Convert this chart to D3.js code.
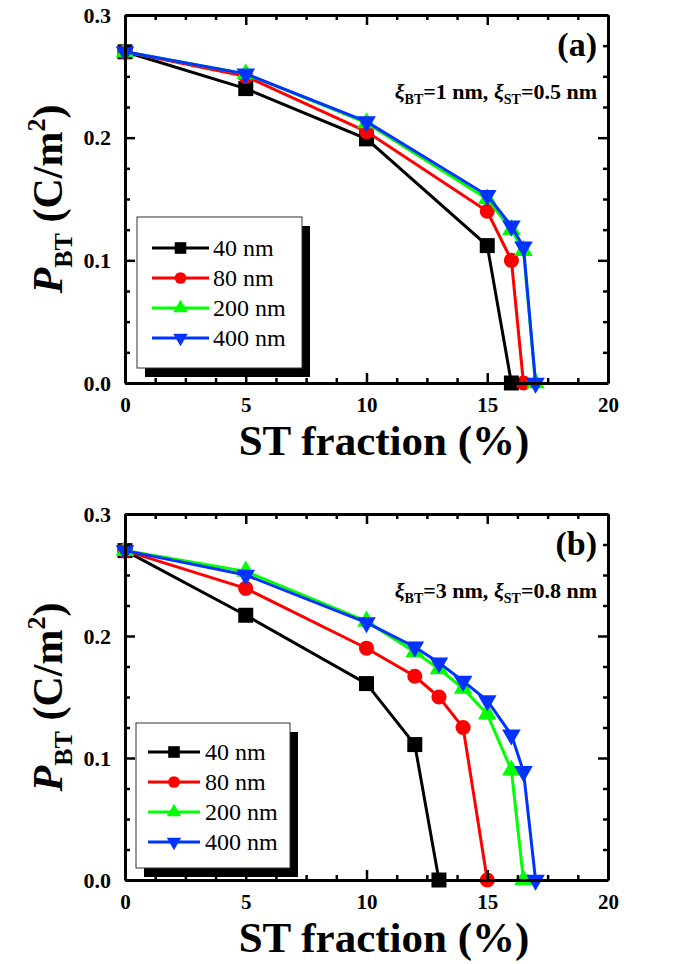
<!DOCTYPE html>
<html>
<head>
<meta charset="utf-8">
<script src="https://cdn.jsdelivr.net/npm/d3@7"></script>
<style>
  body { margin: 0; background: #fff; }
  svg { display: block; }
</style>
</head>
<body>
<svg id="chart" width="682" height="964"></svg>
<script>
// series names, colours, symbols
const sizes = ["40 nm", "80 nm", "200 nm", "400 nm"];
const colors = ["#000000", "#ff0000", "#00ff00", "#0033ff"];

// panel (a): xi_BT = 1 nm, xi_ST = 0.5 nm
const a40X = [0, 5, 10, 15, 16];
const a40Y = [0.27, 0.24, 0.199, 0.112, 0];
const a80X = [0, 5, 10, 15, 16, 16.5];
const a80Y = [0.27, 0.25, 0.205, 0.14, 0.1, 0];
const a200X = [0, 5, 10, 15, 16, 16.5, 17];
const a200Y = [0.27, 0.252, 0.212, 0.15, 0.125, 0.108, 0];
const a400X = [0, 5, 10, 15, 16, 16.5, 17];
const a400Y = [0.27, 0.252, 0.213, 0.153, 0.128, 0.111, 0];

// panel (b): xi_BT = 3 nm, xi_ST = 0.8 nm
const b40X = [0, 5, 10, 12, 13];
const b40Y = [0.27, 0.217, 0.161, 0.111, 0];
const b80X = [0, 5, 10, 12, 13, 14, 15];
const b80Y = [0.27, 0.239, 0.19, 0.167, 0.15, 0.125, 0];
const b200X = [0, 5, 10, 12, 13, 14, 15, 16, 16.5];
const b200Y = [0.27, 0.253, 0.212, 0.187, 0.173, 0.157, 0.136, 0.09, 0];
const b400X = [0, 5, 10, 12, 13, 14, 15, 16, 16.5, 17];
const b400Y = [0.27, 0.25, 0.211, 0.191, 0.178, 0.163, 0.147, 0.119, 0.089, 0];

// axis ticks
const xTicks = [0, 5, 10, 15, 20];
const xMinor = [1.25, 2.5, 3.75, 6.25, 7.5, 8.75, 11.25, 12.5, 13.75, 16.25, 17.5, 18.75];
const yTicks = [0, 0.1, 0.2, 0.3];
const yMinor = [0.025, 0.05, 0.075, 0.125, 0.15, 0.175, 0.225, 0.25, 0.275];

const FONT = '"Liberation Serif"';
const svg = d3.select("#chart");

const symbolFor = (i, k = 1) => [
  d3.symbol().type(d3.symbolSquare).size(225 * k),
  d3.symbol().type(d3.symbolCircle).size(180 * k),
  d3.symbol().type(d3.symbolTriangle).size(150 * k),
  d3.symbol().type(d3.symbolTriangle).size(150 * k),
][i];
const rotFor = (i) => i === 3 ? " rotate(180)" : "";

function drawPanel(opts) {
  const { top, bottom, left, right, series, label, xiBT, xiST, legend } = opts;
  const g = svg.append("g");
  const x = d3.scaleLinear().domain([0, 20]).range([left, right]);
  const y = d3.scaleLinear().domain([0, 0.3]).range([bottom, top]);

  // lines + markers
  series.forEach((s, i) => {
    const pts = s.xs.map((v, k) => [v, s.ys[k]]);
    g.append("path")
      .datum(pts)
      .attr("fill", "none")
      .attr("stroke", colors[i])
      .attr("stroke-width", 3)
      .attr("d", d3.line().x(d => x(d[0])).y(d => y(d[1])));
    g.selectAll(null).data(pts).enter().append("path")
      .attr("transform", d => `translate(${x(d[0])},${y(d[1])})${rotFor(i)}`)
      .attr("d", symbolFor(i)())
      .attr("fill", colors[i]);
  });

  // axes (inward ticks, mirrored)
  const styleAxis = (sel) => {
    sel.select(".domain").attr("stroke", "#000").attr("stroke-width", 3);
    sel.selectAll(".tick line").attr("stroke", "#000").attr("stroke-width", 2.5);
  };
  const bx = g.append("g").attr("transform", `translate(0,${bottom})`)
    .call(d3.axisBottom(x).tickValues(xTicks).tickSizeInner(-10).tickSizeOuter(0).tickPadding(14).tickFormat(d3.format("d")));
  bx.call(styleAxis);
  bx.selectAll(".tick text").attr("font-size", 21).attr("font-weight", "bold").attr("fill", "#000");
  g.append("g").attr("transform", `translate(0,${bottom})`)
    .call(d3.axisBottom(x).tickValues(xMinor).tickSizeInner(-5).tickSizeOuter(0).tickFormat(""))
    .call(styleAxis).select(".domain").remove();
  g.append("g").attr("transform", `translate(0,${top})`)
    .call(d3.axisTop(x).tickValues(xTicks).tickSizeInner(-10).tickSizeOuter(0).tickFormat(""))
    .call(styleAxis);
  g.append("g").attr("transform", `translate(0,${top})`)
    .call(d3.axisTop(x).tickValues(xMinor).tickSizeInner(-5).tickSizeOuter(0).tickFormat(""))
    .call(styleAxis).select(".domain").remove();

  const ly = g.append("g").attr("transform", `translate(${left},0)`)
    .call(d3.axisLeft(y).tickValues(yTicks).tickSizeInner(-10).tickSizeOuter(0).tickPadding(14).tickFormat(d3.format(".1f")));
  ly.call(styleAxis);
  ly.selectAll(".tick text").attr("font-size", 22).attr("font-weight", "bold").attr("fill", "#000");
  g.append("g").attr("transform", `translate(${left},0)`)
    .call(d3.axisLeft(y).tickValues(yMinor).tickSizeInner(-5).tickSizeOuter(0).tickFormat(""))
    .call(styleAxis).select(".domain").remove();
  g.append("g").attr("transform", `translate(${right},0)`)
    .call(d3.axisRight(y).tickValues(yTicks).tickSizeInner(-10).tickSizeOuter(0).tickFormat(""))
    .call(styleAxis);
  g.append("g").attr("transform", `translate(${right},0)`)
    .call(d3.axisRight(y).tickValues(yMinor).tickSizeInner(-5).tickSizeOuter(0).tickFormat(""))
    .call(styleAxis).select(".domain").remove();

  // axis titles
  g.append("text")
    .attr("x", 384).attr("y", bottom + 72)
    .attr("text-anchor", "middle").attr("font-size", 43).attr("font-weight", "bold")
    .text("ST fraction (%)");
  const yt = g.append("text")
    .attr("transform", `translate(62,${(top + bottom) / 2}) rotate(-90)`)
    .attr("text-anchor", "middle").attr("font-size", 42).attr("font-weight", "bold");
  yt.append("tspan").attr("font-style", "italic").text("P");
  yt.append("tspan").attr("font-size", 26).attr("dy", 10).text("BT");
  yt.append("tspan").attr("dy", -10).text(" (C/m");
  yt.append("tspan").attr("font-size", 26).attr("dy", -17).text("2");
  yt.append("tspan").attr("dy", 17).text(")");

  // panel label and annotation
  g.append("text")
    .attr("x", right - 11).attr("y", top + 41)
    .attr("text-anchor", "end").attr("font-size", 34).attr("font-weight", "bold")
    .text(label);
  const ann = g.append("text")
    .attr("x", right - 11).attr("y", top + 84)
    .attr("text-anchor", "end").attr("font-size", 22).attr("font-weight", "bold");
  ann.append("tspan").attr("font-style", "italic").text("ξ");
  ann.append("tspan").attr("font-size", 14).attr("dy", 5).text("BT");
  ann.append("tspan").attr("dy", -5).text("=" + xiBT + " nm, ");
  ann.append("tspan").attr("font-style", "italic").text("ξ");
  ann.append("tspan").attr("font-size", 14).attr("dy", 5).text("ST");
  ann.append("tspan").attr("dy", -5).text("=" + xiST + " nm");

  // legend with drop shadow
  const { lx, ly: lyy, lw, lh, rowY, lineX0, lineX1, textX } = legend;
  g.append("rect").attr("x", lx + 8).attr("y", lyy + 9).attr("width", lw).attr("height", lh).attr("fill", "#000");
  g.append("rect").attr("x", lx).attr("y", lyy).attr("width", lw).attr("height", lh)
    .attr("fill", "#fff").attr("stroke", "#333").attr("stroke-width", 1);
  sizes.forEach((name, i) => {
    const ry = rowY + i * 30;
    g.append("line").attr("x1", lineX0).attr("x2", lineX1).attr("y1", ry).attr("y2", ry)
      .attr("stroke", colors[i]).attr("stroke-width", 3);
    g.append("path")
      .attr("transform", `translate(${(lineX0 + lineX1) / 2},${ry})${rotFor(i)}`)
      .attr("d", symbolFor(i, 0.6)()).attr("fill", colors[i]);
    g.append("text").attr("x", textX).attr("y", ry + 8)
      .attr("font-size", 24).text(name);
  });
}

drawPanel({
  top: 15, bottom: 383, left: 125, right: 608, label: "(a)", xiBT: "1", xiST: "0.5",
  series: [
    { xs: a40X, ys: a40Y }, { xs: a80X, ys: a80Y },
    { xs: a200X, ys: a200Y }, { xs: a400X, ys: a400Y },
  ],
  legend: { lx: 137, ly: 217, lw: 165, lh: 151, rowY: 248, lineX0: 152, lineX1: 209, textX: 213 },
});

drawPanel({
  top: 514, bottom: 880, left: 125, right: 608, label: "(b)", xiBT: "3", xiST: "0.8",
  series: [
    { xs: b40X, ys: b40Y }, { xs: b80X, ys: b80Y },
    { xs: b200X, ys: b200Y }, { xs: b400X, ys: b400Y },
  ],
  legend: { lx: 136, ly: 723, lw: 154, lh: 145, rowY: 752, lineX0: 148, lineX1: 200, textX: 205 },
});

// serif everywhere, set on each text so nothing inherits the axis sans-serif
svg.selectAll("text").style("font-family", FONT);
</script>
</body>
</html>
